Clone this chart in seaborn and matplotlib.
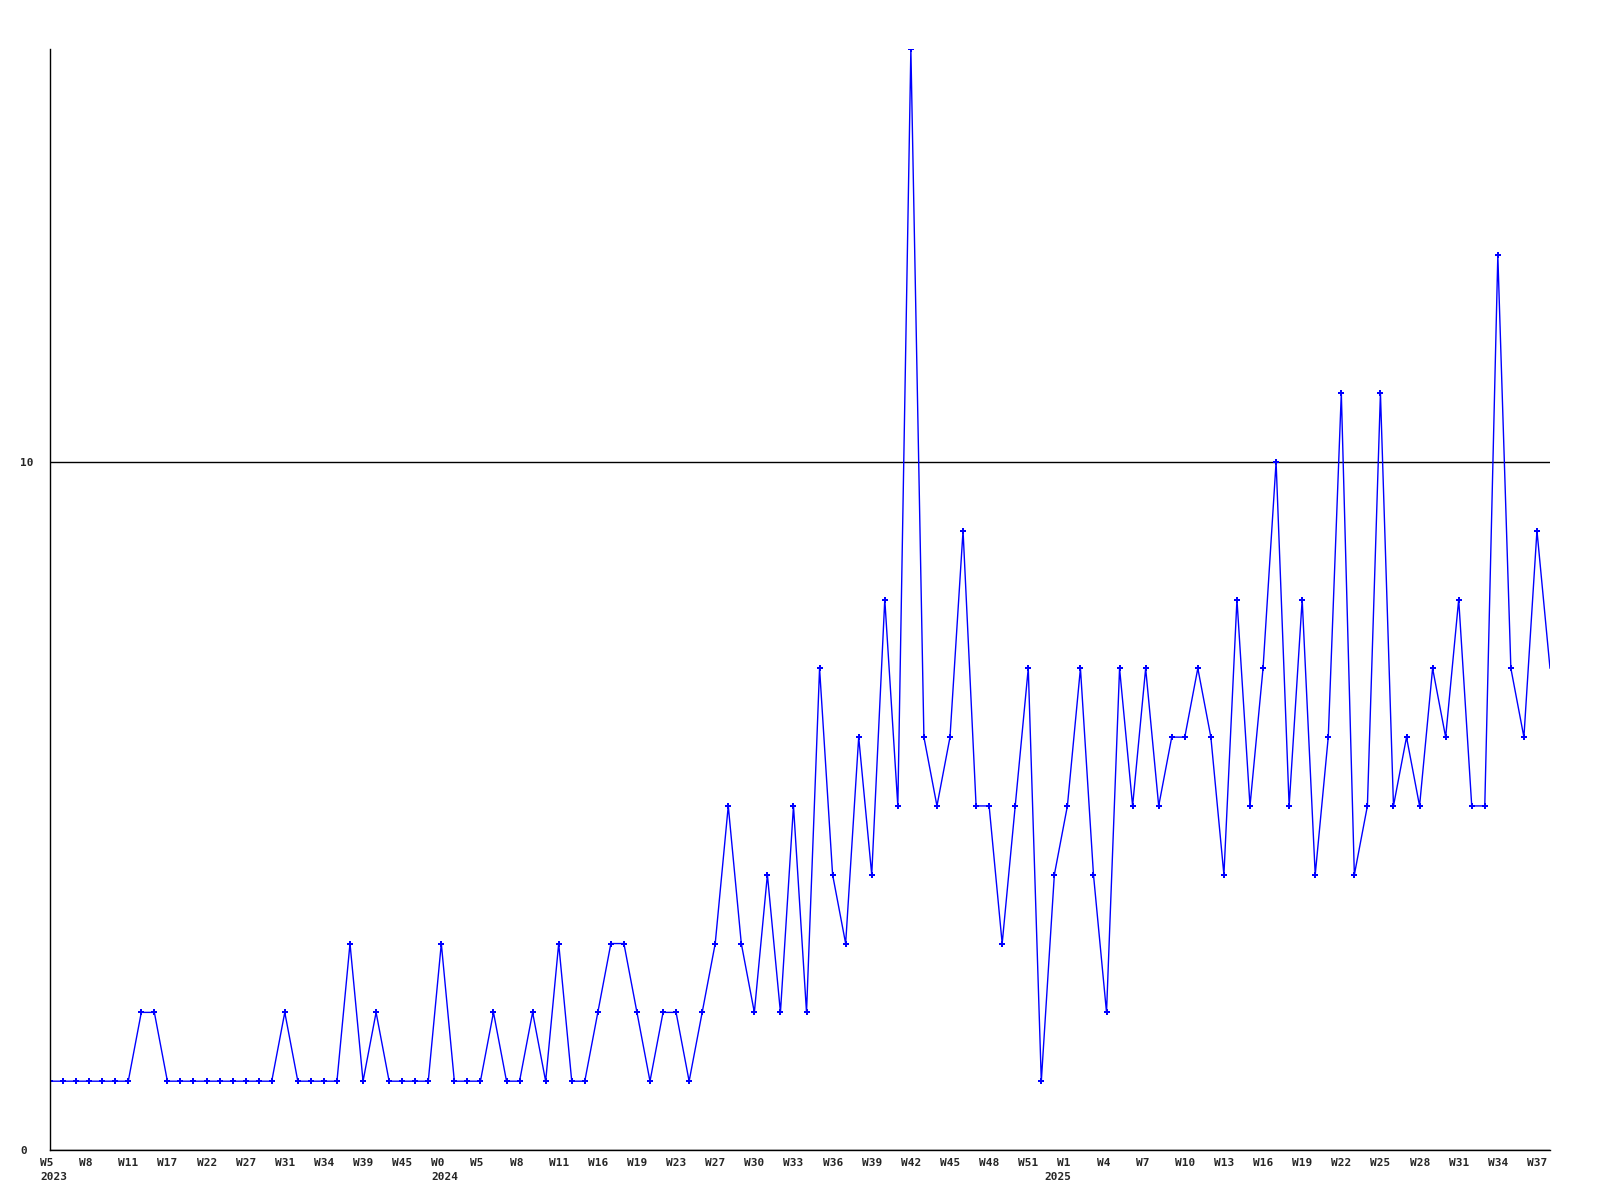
import numpy as np
import pandas as pd
import matplotlib
matplotlib.use('Agg')
import matplotlib.pyplot as plt
import matplotlib.transforms as mtransforms
import seaborn as sns

# weekly counts, one value per point (116 weeks)
counts = [
    1, 1, 1, 1, 1, 1, 1, 2, 2, 1,
    1, 1, 1, 1, 1, 1, 1, 1, 2, 1,
    1, 1, 1, 3, 1, 2, 1, 1, 1, 1,
    3, 1, 1, 1, 2, 1, 1, 2, 1, 3,
    1, 1, 2, 3, 3, 2, 1, 2, 2, 1,
    2, 3, 5, 3, 2, 4, 2, 5, 2, 7,
    4, 3, 6, 4, 8, 5, 16, 6, 5, 6,
    9, 5, 5, 3, 5, 7, 1, 4, 5, 7,
    4, 2, 7, 5, 7, 5, 6, 6, 7, 6,
    4, 8, 5, 7, 10, 5, 8, 4, 6, 11,
    4, 5, 11, 5, 6, 5, 7, 6, 8, 5,
    5, 13, 7, 6, 9, 7,
]

# tick labels, one every 3rd point
week_labels = [
    'W5', 'W8', 'W11', 'W17', 'W22', 'W27', 'W31', 'W34', 'W39', 'W45',
    'W0', 'W5', 'W8', 'W11', 'W16', 'W19', 'W23', 'W27', 'W30', 'W33',
    'W36', 'W39', 'W42', 'W45', 'W48', 'W51', 'W1', 'W4', 'W7', 'W10',
    'W13', 'W16', 'W19', 'W22', 'W25', 'W28', 'W31', 'W34', 'W37',
]
year_pos = [0, 30, 78]
year_labels = ['2023', '2024', '2025']
y_ticks = [0, 10]

df = pd.DataFrame({'idx': np.arange(len(counts)), 'count': counts})

sns.set_style('white')
plt.rcParams['font.family'] = ['DejaVu Sans Mono']
plt.rcParams['font.weight'] = 'bold'

fig = plt.figure(figsize=(16, 12), dpi=100)
ax = fig.add_axes([50 / 1600, 50 / 1200, 1500 / 1600, 1101 / 1200])

sns.lineplot(data=df, x='idx', y='count', ax=ax, color='#0000ff', lw=1,
             marker='P', markersize=5, markeredgewidth=0,
             markevery=list(range(len(counts) - 1)))

ax.set_xlim(0, len(counts) - 1)
ax.set_ylim(0, 16)

# x ticks: weeks on major, years on minor (second row)
ax.xaxis.remove_overlapping_locs = False
tick_pos = list(range(0, len(counts), 3))[:len(week_labels)]
ax.set_xticks(tick_pos)
ax.set_xticks(year_pos, minor=True)
ax.tick_params(axis='x', which='major', length=0, pad=5.5)
ax.tick_params(axis='x', which='minor', length=0, pad=16)
ax.set_xticklabels(week_labels, ha='left', fontsize=8, fontweight='bold')
ax.set_xticklabels(year_labels, minor=True, ha='left', fontsize=8, fontweight='bold')
for lab in ax.get_xticklabels():
    lab.set_transform(lab.get_transform() +
                      mtransforms.ScaledTranslation(-10 / 100, 0, fig.dpi_scale_trans))
year_shift = [-10, -10, -23]
for lab, dx in zip(ax.get_xticklabels(minor=True), year_shift):
    lab.set_transform(lab.get_transform() +
                      mtransforms.ScaledTranslation(dx / 100, 0, fig.dpi_scale_trans))

# y ticks
ax.set_yticks(y_ticks)
ax.tick_params(axis='y', length=0, pad=21.6)
ax.set_yticklabels([str(v) for v in y_ticks], ha='left', fontsize=8, fontweight='bold')

ax.grid(axis='y', which='major', color='black', lw=1)
ax.grid(axis='x', which='both', visible=False)
ax.set_axisbelow(True)
ax.set_xlabel('')
ax.set_ylabel('')

for side in ['top', 'right']:
    ax.spines[side].set_visible(False)
for side in ['left', 'bottom']:
    ax.spines[side].set_color('black')
    ax.spines[side].set_linewidth(1)

fig.savefig('out.png', dpi=100)
